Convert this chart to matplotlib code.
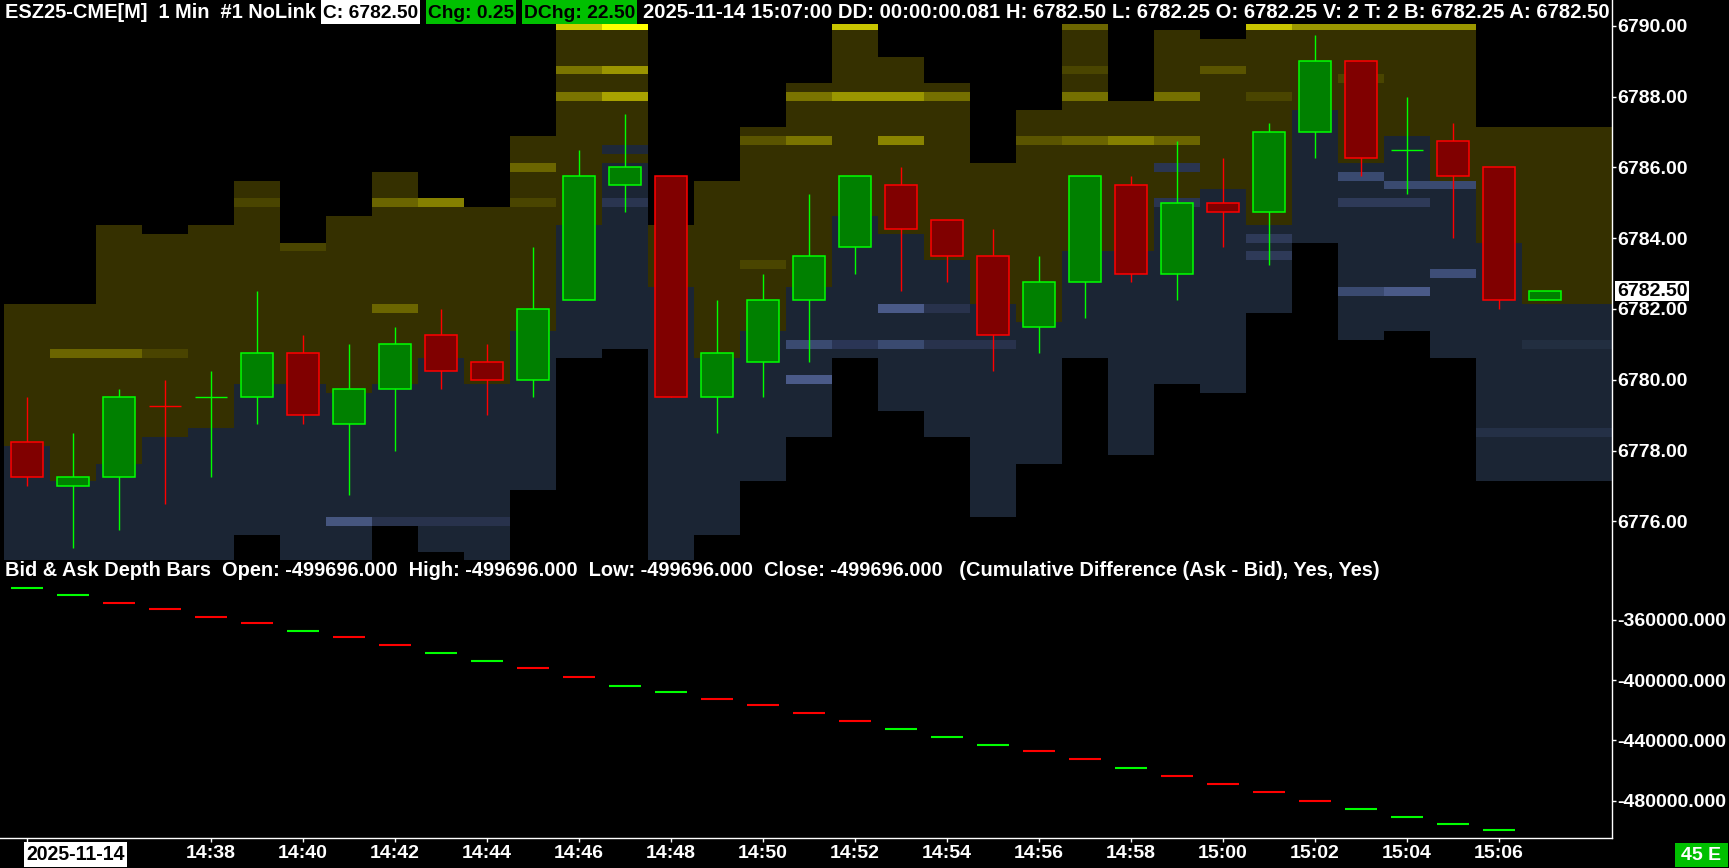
import matplotlib
matplotlib.use('Agg')
import matplotlib.pyplot as plt
import matplotlib.transforms as mtransforms
from matplotlib.patches import Rectangle
from matplotlib.lines import Line2D

# ---- chart data ----
bar_times = ['14:34', '14:35', '14:36', '14:37', '14:38', '14:39', '14:40', '14:41', '14:42',
             '14:43', '14:44', '14:45', '14:46', '14:47', '14:48', '14:49', '14:50', '14:51',
             '14:52', '14:53', '14:54', '14:55', '14:56', '14:57', '14:58', '14:59', '15:00',
             '15:01', '15:02', '15:03', '15:04', '15:05', '15:06', '15:07']
tick_labels = ['14:38', '14:40', '14:42', '14:44', '14:46', '14:48', '14:50', '14:52',
               '14:54', '14:56', '14:58', '15:00', '15:02', '15:04', '15:06']

opens = [6778.25, 6777.0, 6777.25, 6779.25, 6779.5, 6779.5, 6780.75, 6778.75, 6779.75,
         6781.25, 6780.5, 6780.0, 6782.25, 6785.5, 6785.75, 6779.5, 6780.5, 6782.25,
         6783.75, 6785.5, 6784.5, 6783.5, 6781.5, 6782.75, 6785.5, 6783.0, 6785.0,
         6784.75, 6787.0, 6789.0, 6786.5, 6786.75, 6786.0, 6782.25]
highs = [6779.5, 6778.5, 6779.75, 6780.0, 6780.25, 6782.5, 6781.25, 6781.0, 6781.5,
         6782.0, 6781.0, 6783.75, 6786.5, 6787.5, 6785.75, 6782.25, 6783.0, 6785.25,
         6785.75, 6786.0, 6784.5, 6784.25, 6783.5, 6785.75, 6785.75, 6786.75, 6786.25,
         6787.25, 6789.75, 6789.0, 6788.0, 6787.25, 6786.0, 6782.5]
lows = [6777.0, 6775.25, 6775.75, 6776.5, 6777.25, 6778.75, 6778.75, 6776.75, 6778.0,
        6779.75, 6779.0, 6779.5, 6782.25, 6784.75, 6779.5, 6778.5, 6779.5, 6780.5,
        6783.0, 6782.5, 6782.75, 6780.25, 6780.75, 6781.75, 6782.75, 6782.25, 6783.75,
        6783.25, 6786.25, 6785.75, 6785.25, 6784.0, 6782.0, 6782.25]
closes = [6777.25, 6777.25, 6779.5, 6779.25, 6779.5, 6780.75, 6779.0, 6779.75, 6781.0,
          6780.25, 6780.0, 6782.0, 6785.75, 6786.0, 6779.5, 6780.75, 6782.25, 6783.5,
          6785.75, 6784.25, 6783.5, 6781.25, 6782.75, 6785.75, 6783.0, 6785.0, 6784.75,
          6787.0, 6789.0, 6786.25, 6786.5, 6785.75, 6782.25, 6782.5]

# depth bars: highest ask level, lowest ask level, lowest bid level per bar
ask_top = [6782.0, 6782.0, 6784.25, 6784.0, 6784.25, 6785.5, 6783.75, 6784.5, 6785.75,
           6785.0, 6784.75, 6786.75, 6790.0, 6790.0, 6784.25, 6785.5, 6787.0, 6788.25,
           6790.0, 6789.0, 6788.25, 6786.0, 6787.5, 6790.0, 6787.75, 6789.75, 6789.5,
           6790.0, 6790.0, 6790.0, 6790.0, 6790.0, 6787.0, 6787.0]
ask_low = [6778.25, 6777.25, 6777.75, 6778.5, 6778.75, 6780.0, 6780.0, 6779.75, 6780.0,
           6780.75, 6780.0, 6781.5, 6784.5, 6786.25, 6782.75, 6780.75, 6781.5, 6782.75,
           6784.75, 6784.25, 6783.5, 6782.25, 6781.75, 6783.75, 6783.75, 6785.25, 6785.5,
           6784.5, 6787.75, 6786.25, 6787.0, 6785.75, 6784.0, 6782.25]
bid_bottom = [6774.75, 6774.75, 6774.75, 6774.75, 6774.75, 6775.75, 6774.75, 6774.75, 6776.0,
              6775.25, 6774.75, 6777.0, 6780.75, 6781.0, 6774.75, 6775.75, 6777.25, 6778.5,
              6780.75, 6779.25, 6778.5, 6776.25, 6777.75, 6780.75, 6778.0, 6780.0, 6779.75,
              6782.0, 6784.0, 6781.25, 6781.5, 6780.75, 6777.25, 6777.25]

# heavier levels: (bar, price, colour)
ask_heavy = [(1, 6780.75, '#6b6500'), (2, 6780.75, '#6b6500'), (3, 6780.75, '#4a4400'),
             (5, 6785.0, '#4a4500'), (6, 6783.75, '#4a4500'),
             (8, 6785.0, '#6b6500'), (8, 6782.0, '#6b6500'), (9, 6785.0, '#858000'),
             (11, 6786.0, '#6b6500'), (11, 6785.0, '#4a4500'),
             (12, 6790.0, '#d0cc00'), (12, 6788.75, '#7a7400'), (12, 6788.0, '#7a7400'),
             (13, 6790.0, '#ffff00'), (13, 6788.75, '#9a9400'), (13, 6788.0, '#a8a200'),
             (16, 6786.75, '#5a5400'), (16, 6783.25, '#4a4500'),
             (17, 6788.0, '#7a7400'), (17, 6786.75, '#7a7400'),
             (18, 6790.0, '#c8c400'), (18, 6788.0, '#9a9600'),
             (19, 6788.0, '#9a9600'), (19, 6786.75, '#8a8400'),
             (20, 6788.0, '#757000'), (22, 6786.75, '#5a5400'),
             (23, 6790.0, '#6b6500'), (23, 6788.75, '#4a4500'), (23, 6788.0, '#757000'),
             (23, 6786.75, '#6b6500'), (24, 6786.75, '#858000'),
             (25, 6788.0, '#757000'), (25, 6786.75, '#6b6500'), (26, 6788.75, '#5a5400'),
             (27, 6790.0, '#c8c400'), (27, 6788.0, '#4a4500'),
             (28, 6790.0, '#9a9600'), (29, 6790.0, '#9a9600'), (29, 6788.5, '#4a4500'),
             (30, 6790.0, '#9a9600'), (31, 6790.0, '#9a9600')]
bid_heavy = [(7, 6776.0, '#46567f'), (8, 6776.0, '#28324c'), (9, 6776.0, '#28324c'),
             (10, 6776.0, '#28324c'), (13, 6786.5, '#1e2838'), (13, 6785.0, '#2a3550'),
             (17, 6781.0, '#3a4a70'), (17, 6780.0, '#4a5a88'), (18, 6781.0, '#2a3555'),
             (19, 6782.0, '#4a5a88'), (19, 6781.0, '#3a4a70'),
             (20, 6782.0, '#28324c'), (20, 6781.0, '#28324c'), (21, 6781.0, '#28324c'),
             (25, 6786.0, '#2a3550'), (25, 6785.0, '#2a3550'),
             (27, 6784.0, '#2e3a58'), (27, 6783.5, '#2e3a58'),
             (29, 6785.75, '#3a4a70'), (29, 6785.0, '#2e3a58'), (29, 6782.5, '#3a4a70'),
             (30, 6785.5, '#3a4a70'), (30, 6785.0, '#2e3a58'), (30, 6782.5, '#4a5a88'),
             (31, 6785.5, '#3a4a70'), (31, 6783.0, '#3e4e78'),
             (32, 6778.5, '#243046'), (33, 6778.5, '#243046'), (33, 6781.0, '#222e40')]

# cumulative difference (ask - bid), one value per bar
cum_diff = [-338900, -343300, -348400, -352700, -357800, -362200, -367300, -371600, -376700,
            -381800, -386900, -392000, -397800, -403600, -408000, -412400, -416700, -421800,
            -426900, -432700, -437800, -442900, -447300, -452400, -458200, -463300, -469100,
            -474200, -480000, -485800, -490900, -495300, -499700]
cum_up = [1, 1, 0, 0, 0, 0, 1, 0, 0, 1, 1, 0, 0, 1, 1, 0, 0, 0, 0, 1, 1, 1, 0, 0, 1,
          0, 0, 0, 0, 1, 1, 1, 1]

price_ticks = [6776, 6778, 6780, 6782, 6784, 6786, 6788, 6790]
cum_ticks = [-360000, -400000, -440000, -480000]
last_price = 6782.50

header_left = 'ESZ25-CME[M]  1 Min  #1 NoLink'
header_right = ('2025-11-14 15:07:00 DD: 00:00:00.081 H: 6782.50 L: 6782.25 O: 6782.25 '
                'V: 2 T: 2 B: 6782.25 A: 6782.50')
study_label = ('Bid & Ask Depth Bars  Open: -499696.000  High: -499696.000  Low: -499696.000  '
               'Close: -499696.000   (Cumulative Difference (Ask - Bid), Yes, Yes)')

# ---- layout ----
W, H = 1729, 868
plt.rcParams['font.family'] = ['Liberation Sans', 'DejaVu Sans']
plt.rcParams['font.weight'] = 'bold'

fig = plt.figure(figsize=(W / 100, H / 100), dpi=100, facecolor='black')
renderer = fig.canvas.get_renderer()


def fx(px):
    return px / W


def fy(py):
    return 1 - py / H


ax = fig.add_axes([0, fy(560), fx(1612), (560 - 24) / H])
ax2 = fig.add_axes([0, fy(838), fx(1612), (838 - 560) / H])
for a in (ax, ax2):
    a.set_facecolor('black')
    for s in a.spines.values():
        s.set_visible(False)

n = len(bar_times)
x_left = -0.58
x_right = x_left + 1612 / 46
ASK_BASE = '#353000'
BID_BASE = '#1b2534'


def col_span(i):
    x0 = i - 0.5
    w = 1.0 if i < n - 1 else x_right - x0
    return x0, w


# depth columns
for i in range(n):
    x0, w = col_span(i)
    ax.bar(x0, ask_top[i] - ask_low[i] + 0.25, bottom=ask_low[i] - 0.125, width=w,
           align='edge', color=ASK_BASE, lw=0, zorder=1)
    ax.bar(x0, ask_low[i] - bid_bottom[i], bottom=bid_bottom[i] - 0.125, width=w,
           align='edge', color=BID_BASE, lw=0, zorder=1)
for i, p, c in ask_heavy + bid_heavy:
    x0, w = col_span(i)
    ax.bar(x0, 0.25, bottom=p - 0.125, width=w, align='edge', color=c, lw=0, zorder=1.5)

# candles
for i in range(n):
    o, h, l, c = opens[i], highs[i], lows[i], closes[i]
    if c != o:
        up = c > o
    else:
        up = i == 0 or c >= closes[i - 1]
    ec = '#00ff00' if up else '#ff0000'
    fc = '#008000' if up else '#800000'
    ax.vlines(i, l, h, color=ec, lw=1, zorder=3)
    if c == o:
        ax.hlines(o, i - 0.35, i + 0.35, color=ec, lw=1, zorder=4)
    else:
        ax.bar(i, abs(c - o), bottom=min(o, c), width=0.7, color=fc, edgecolor=ec,
               lw=1.1, zorder=4)

ax.set_xlim(x_left, x_right)
ax.set_ylim(6790 - (560 - 25.7) / 35.4, 6790 + (25.7 - 24) / 35.4)
ax.yaxis.tick_right()
ax.set_yticks(price_ticks)
ax.set_yticklabels([f'{p:.2f}' for p in price_ticks])
ax.tick_params(axis='y', colors='white', length=3, width=1, pad=1, labelsize=14)
ax.tick_params(axis='x', bottom=False, labelbottom=False)

trans = mtransforms.blended_transform_factory(fig.transFigure, ax.transData)
ax.text(fx(1652), last_price, f'{last_price:.2f}', transform=trans, ha='center', va='center',
        fontsize=14, color='black', zorder=10, clip_on=False,
        bbox=dict(boxstyle='square,pad=0.08', fc='white', ec='none'))

# lower study panel
ax2.hlines(cum_diff, [i - 0.35 for i in range(len(cum_diff))],
           [i + 0.35 for i in range(len(cum_diff))],
           colors=['#00ff00' if u else '#ff0000' for u in cum_up], lw=1.5)
ax2.set_xlim(x_left, x_right)
ax2.set_ylim(-360000 - (838 - 620) * 664.1, -360000 + (620 - 560) * 664.1)
ax2.yaxis.tick_right()
ax2.set_yticks(cum_ticks)
ax2.set_yticklabels([f'{v:.3f}' for v in cum_ticks])
ax2.tick_params(axis='y', colors='white', length=3, width=1, pad=1, labelsize=14)
xt = [0] + [bar_times.index(t) for t in tick_labels]
ax2.set_xticks(xt)
ax2.set_xticklabels([''] + tick_labels)
ax2.tick_params(axis='x', colors='white', length=3, width=1, pad=2, labelsize=14)

# frame lines
fig.add_artist(Line2D([fx(1612), fx(1612)], [fy(0), fy(838)], color='white', lw=1))
fig.add_artist(Line2D([0, fx(1612)], [fy(838), fy(838)], color='white', lw=1))


def box(x0, x1, y0, y1, color):
    fig.add_artist(Rectangle((fx(x0), fy(y1)), fx(x1 - x0), (y1 - y0) / H,
                             transform=fig.transFigure, color=color, lw=0))


def fit_text(x0, x1, yc, s, color, size=14):
    t = fig.text(fx(x0), fy(yc), s, color=color, fontsize=size, ha='left', va='center')
    bb = t.get_window_extent(renderer=renderer)
    t.set_fontsize(size * (x1 - x0) / bb.width)
    return t


# header
fit_text(5, 316, 13, header_left, 'white')
box(321, 420, 0, 24, 'white')
fit_text(323, 418, 13, 'C: 6782.50', 'black')
box(426, 516, 0, 24, '#00c000')
fit_text(428, 514, 13, 'Chg: 0.25', 'black')
box(522, 637, 0, 24, '#00c000')
fit_text(524, 635, 13, 'DChg: 22.50', 'black')
fit_text(643, 1607, 13, header_right, 'white')

# study label
fit_text(5, 1382, 571, study_label, 'white')

# date and footer boxes
box(24, 127, 842, 867, 'white')
fit_text(26, 125, 855, '2025-11-14', 'black')
box(1675, 1728, 843, 867, '#00c000')
fig.text(fx(1701.5), fy(855), '45 E', color='white', fontsize=14, ha='center', va='center')

fig.savefig('out.png', dpi=100, facecolor='black')
